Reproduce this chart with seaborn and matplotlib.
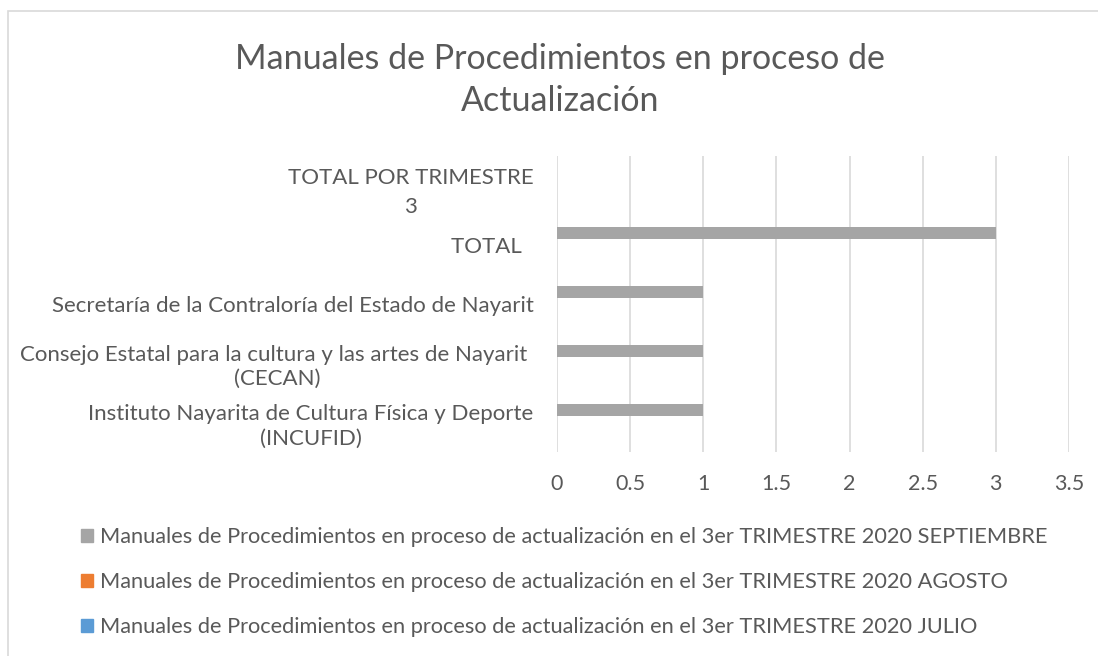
import matplotlib
matplotlib.use("Agg")
import matplotlib.pyplot as plt
import seaborn as sns
import pandas as pd
import numpy as np
from matplotlib.patches import Rectangle

categories = [
    "TOTAL POR TRIMESTRE\n3",
    "TOTAL  ",
    "Secretaría de la Contraloría del Estado de Nayarit",
    "Consejo Estatal para la cultura y las artes de Nayarit \n(CECAN)",
    "Instituto Nayarita de Cultura Física y Deporte\n(INCUFID)",
]
series_names = [
    "Manuales de Procedimientos en proceso de actualización en el 3er TRIMESTRE 2020 SEPTIEMBRE",
    "Manuales de Procedimientos en proceso de actualización en el 3er TRIMESTRE 2020 AGOSTO",
    "Manuales de Procedimientos en proceso de actualización en el 3er TRIMESTRE 2020 JULIO",
]
septiembre = [np.nan, 3, 1, 1, 1]
agosto = [np.nan, 0, 0, 0, 0]
julio = [np.nan, 0, 0, 0, 0]
x_ticks = [0, 0.5, 1, 1.5, 2, 2.5, 3, 3.5]
x_ticklabels = ["0", "0.5", "1", "1.5", "2", "2.5", "3", "3.5"]
title = "Manuales de Procedimientos en proceso de\nActualización"
colors = ["#A5A5A5", "#ED7D31", "#5B9BD5"]

rows = []
for name, vals in zip(series_names, [septiembre, agosto, julio]):
    for c, v in zip(categories, vals):
        rows.append({"cat": c, "serie": name, "val": v})
df = pd.DataFrame(rows)

sns.set_theme(style="white")
FONT = "Lato"
plt.rcParams["font.family"] = [FONT, "DejaVu Sans"]
TXT = "#595959"

fig = plt.figure(figsize=(10.98, 6.56), dpi=100)
ax = fig.add_axes([557 / 1098, 1 - 452 / 656, (1069 - 557) / 1098, (452 - 156) / 656])

sns.barplot(data=df, y="cat", x="val", hue="serie", order=categories,
            hue_order=series_names, palette=colors, orient="h",
            width=0.61, linewidth=0, errorbar=None, ax=ax, legend=False)

ax.set_xlim(0, 3.5)
ax.set_xticks(x_ticks)
ax.set_xticklabels(x_ticklabels)
ax.set_xlabel("")
ax.set_ylabel("")
ax.grid(axis="x", color="#D9D9D9", linewidth=1.2)
ax.grid(axis="y", visible=False)
ax.set_axisbelow(True)
for s in ax.spines.values():
    s.set_visible(False)
ax.tick_params(axis="x", length=0, pad=16, labelsize=15.5, labelcolor=TXT)
ax.tick_params(axis="y", length=0, pad=17, labelsize=16, labelcolor=TXT)
for i, lab in enumerate(ax.get_yticklabels()):
    lab.set_multialignment("center")
    lab.set_linespacing(1.6 if i == 0 else 1.25)

fig.text(560 / 1098, 1 - 80 / 656, title, ha="center", va="center",
         fontsize=24.5, color=TXT, linespacing=1.4)

# legend
handles = [Rectangle((0, 0), 1, 1, color=c) for c in colors]
leg = fig.legend(handles, series_names, loc="upper left",
                 bbox_to_anchor=(81 / 1098, 1 - 527 / 656), frameon=False,
                 fontsize=15.7, labelcolor=TXT, handlelength=0.55, handleheight=0.55,
                 handletextpad=0.3, labelspacing=1.15, borderpad=0, borderaxespad=0)

# chart border
fig.add_artist(Rectangle((8 / 1098, -0.1), 1.2, 1 - 11 / 656 + 0.1,
                         transform=fig.transFigure, fill=False,
                         edgecolor="#D9D9D9", linewidth=1.2))

fig.savefig("out.png", dpi=100)
